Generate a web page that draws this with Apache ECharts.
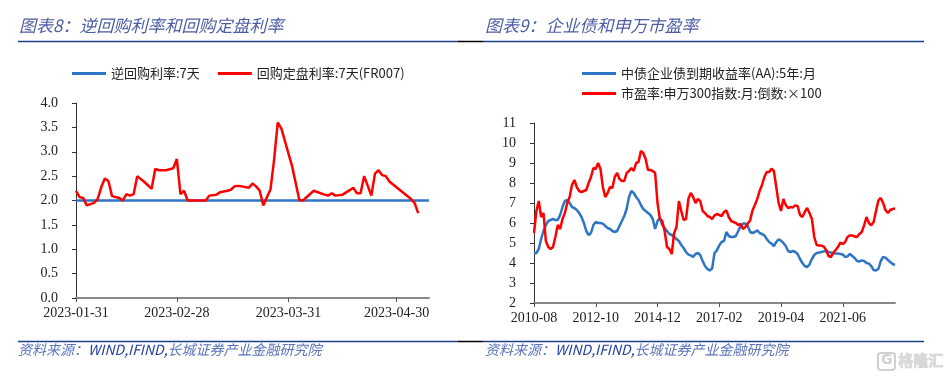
<!DOCTYPE html>
<html>
<head>
<meta charset="utf-8">
<script src="https://cdn.jsdelivr.net/npm/echarts@6/dist/echarts.min.js"></script>
<style>
html, body { margin: 0; padding: 0; background: #fff; }
#main { width: 951px; height: 377px; }
</style>
</head>
<body>
<div id="main"></div>
<script>
// 图表8 数据
var redDates = ['2023-01-31','2023-02-01','2023-02-02','2023-02-03','2023-02-05','2023-02-06','2023-02-07','2023-02-08','2023-02-09','2023-02-10',
    '2023-02-12','2023-02-13','2023-02-14','2023-02-15','2023-02-16','2023-02-17','2023-02-19','2023-02-21','2023-02-22','2023-02-23',
    '2023-02-25','2023-02-27','2023-02-28','2023-03-01','2023-03-02','2023-03-03','2023-03-08','2023-03-09','2023-03-11','2023-03-12',
    '2023-03-14','2023-03-15','2023-03-16','2023-03-17','2023-03-18','2023-03-20','2023-03-21','2023-03-22','2023-03-23','2023-03-24',
    '2023-03-26','2023-03-27','2023-03-28','2023-03-29','2023-04-01','2023-04-03','2023-04-04','2023-04-07','2023-04-10','2023-04-11',
    '2023-04-12','2023-04-13','2023-04-15','2023-04-18','2023-04-19','2023-04-20','2023-04-21','2023-04-23','2023-04-24','2023-04-25',
    '2023-04-26','2023-04-27','2023-04-28','2023-05-04','2023-05-05','2023-05-06'];
var redValues = [2.2,2.07,2.05,1.9,1.95,2.03,2.27,2.45,2.4,2.09,
    2.05,2.0,2.13,2.1,2.13,2.5,2.38,2.24,2.65,2.62,
    2.62,2.66,2.85,2.13,2.2,2.0,2.0,2.1,2.12,2.17,
    2.2,2.22,2.29,2.3,2.29,2.26,2.35,2.29,2.2,1.9,
    2.23,2.84,3.6,3.48,2.7,2.01,2.0,2.2,2.12,2.1,
    2.15,2.1,2.12,2.26,2.15,2.15,2.5,2.1,2.55,2.62,
    2.52,2.5,2.39,2.03,1.95,1.74];
var blueDates = ['2023-01-31','2023-05-09'];
var blueValues = [2.0,2.0];
var leftTicks = ['2023-01-31','2023-02-28','2023-03-31','2023-04-30'];

// 图表9 数据 (月度, 2010-08 起)
var months = [];
for (var y = 2010, m = 8; y < 2023 || (y === 2023 && m <= 4); m++) {
    if (m > 12) { m = 1; y++; }
    months.push(y + '-' + (m < 10 ? '0' + m : m));
}
var bondYield = [4.47,4.5,4.7,5.2,5.6,5.9,6.1,6.15,6.2,6.15,
    6.15,6.4,6.8,7.1,7.15,7.0,6.8,6.75,6.65,6.5,
    6.3,6.0,5.6,5.4,5.5,5.9,6.05,6.0,6.0,5.97,
    5.85,5.75,5.7,5.6,5.55,5.6,5.85,6.1,6.35,6.7,
    7.3,7.6,7.5,7.3,7.15,6.9,6.7,6.6,6.5,6.4,
    6.2,5.7,6.1,6.25,5.9,5.75,5.6,5.45,5.4,5.3,
    5.2,5.1,4.9,4.75,4.55,4.42,4.38,4.3,4.45,4.5,
    4.4,4.1,3.85,3.7,3.63,3.72,4.5,4.63,4.88,5.05,
    5.1,5.55,5.35,5.3,5.3,5.35,5.6,5.85,5.97,5.97,
    5.85,5.55,5.5,5.55,5.63,5.5,5.45,5.38,5.2,5.05,
    4.97,4.85,5.05,5.18,5.12,5.0,4.85,4.6,4.55,4.6,
    4.55,4.45,4.2,4.0,3.85,3.8,3.92,4.2,4.4,4.5,
    4.52,4.55,4.58,4.6,4.55,4.52,4.5,4.48,4.47,4.45,
    4.43,4.3,4.33,4.45,4.35,4.25,4.1,4.08,4.13,4.1,
    4.0,3.97,3.85,3.65,3.63,3.7,4.1,4.3,4.27,4.15,
    4.05,3.95,3.9];
var peInverse = [5.5,6.6,7.1,6.3,6.5,5.1,4.8,4.7,4.8,5.3,
    5.9,5.7,6.2,6.5,7.0,7.3,7.9,8.15,7.8,7.6,
    7.55,7.6,7.65,8.0,8.3,8.75,8.7,9.0,8.7,7.8,
    7.3,7.5,7.8,7.75,8.3,8.5,8.2,8.1,8.1,8.5,
    8.6,8.75,8.6,9.0,9.05,9.6,9.5,9.2,8.65,8.65,
    8.6,8.5,7.0,6.2,6.1,5.6,4.8,4.7,4.45,5.5,
    5.8,7.1,6.6,6.15,6.2,7.2,7.5,7.3,7.0,7.2,
    7.1,6.6,6.5,6.35,6.3,6.2,6.38,6.45,6.4,6.35,
    6.55,6.63,6.3,6.1,6.05,6.0,5.9,5.95,5.7,5.8,
    5.97,6.13,6.63,6.9,7.2,7.6,7.9,8.3,8.55,8.55,
    8.72,8.6,7.8,7.0,6.6,7.2,6.9,6.75,6.8,6.78,
    6.88,6.85,6.4,6.3,6.55,6.75,6.5,6.2,5.3,4.9,
    4.88,4.87,4.82,4.65,4.35,4.3,4.5,4.65,4.8,5.02,
    4.95,5.05,5.3,5.38,5.38,5.32,5.3,5.45,5.55,5.88,
    6.3,6.0,5.88,6.05,6.6,7.13,7.25,7.0,6.65,6.5,
    6.65,6.7,6.72];

function ts(s) {
    var p = s.split('-');
    return new Date(+p[0], +p[1] - 1, +p[2]).getTime();
}
function pad(n) { return n < 10 ? '0' + n : '' + n; }
function fmtDay(v) {
    var d = new Date(v);
    return d.getFullYear() + '-' + pad(d.getMonth() + 1) + '-' + pad(d.getDate());
}
function pairs(dates, vals) {
    return dates.map(function (d, i) { return [ts(d), vals[i]]; });
}

var BLUE = '#2f75c5';
var RED = '#ff0000';
var NAVY = '#1f3f8a';
var serif = '"Liberation Serif", "Times New Roman", serif';
var cjk = '"Noto Sans CJK SC", sans-serif';
var labelStyle = { color: '#222', fontFamily: serif, fontSize: 14 };
var footFont = 'italic 14px "Noto Sans CJK SC", sans-serif';

var dom = document.getElementById('main');
var myChart = echarts.init(dom);

myChart.setOption({
    animation: false,
    backgroundColor: '#fff',
    legend: [{
        left: 67,
        top: 62,
        itemWidth: 34,
        itemHeight: 3,
        itemGap: 18,
        icon: 'rect',
        textStyle: { color: '#222', fontFamily: cjk, fontSize: 13 },
        data: ['逆回购利率:7天', '回购定盘利率:7天(FR007)']
    }, {
        left: 577,
        top: 62,
        orient: 'vertical',
        itemWidth: 34,
        itemHeight: 3,
        itemGap: 7,
        icon: 'rect',
        textStyle: { color: '#222', fontFamily: cjk, fontSize: 13 },
        data: ['中债企业债到期收益率(AA):5年:月', '市盈率:申万300指数:月:倒数:×100']
    }],
    grid: [
        { left: 76, top: 103, width: 353, height: 195 },
        { left: 534, top: 123, width: 361, height: 180 }
    ],
    xAxis: [{
        type: 'value',
        gridIndex: 0,
        min: ts('2023-01-31'),
        max: ts('2023-05-09'),
        splitLine: { show: false },
        axisLine: { lineStyle: { color: '#888', width: 2 } },
        axisTick: { show: true, length: 4, lineStyle: { color: '#555' }, customValues: leftTicks.map(ts) },
        axisLabel: Object.assign({ margin: 8, customValues: leftTicks.map(ts), formatter: fmtDay, hideOverlap: false }, labelStyle)
    }, {
        type: 'category',
        gridIndex: 1,
        data: months,
        boundaryGap: false,
        axisLine: { lineStyle: { color: '#888', width: 2 } },
        axisTick: { interval: 25, length: 4, lineStyle: { color: '#555' } },
        axisLabel: Object.assign({ interval: 25, margin: 8 }, labelStyle)
    }],
    yAxis: [{
        type: 'value',
        gridIndex: 0,
        min: 0,
        max: 4,
        interval: 0.5,
        splitLine: { show: false },
        axisLine: { show: true, lineStyle: { color: '#333' } },
        axisTick: { show: true, length: 4, lineStyle: { color: '#333' } },
        axisLabel: Object.assign({ margin: 18, formatter: function (v) { return v.toFixed(1); } }, labelStyle)
    }, {
        type: 'value',
        gridIndex: 1,
        min: 2,
        max: 11,
        interval: 1,
        splitLine: { show: false },
        axisLine: { show: true, lineStyle: { color: '#333' } },
        axisTick: { show: true, length: 4, lineStyle: { color: '#333' } },
        axisLabel: Object.assign({ margin: 18 }, labelStyle)
    }],
    series: [{
        name: '逆回购利率:7天',
        type: 'line',
        xAxisIndex: 0,
        yAxisIndex: 0,
        showSymbol: false,
        color: BLUE,
        lineStyle: { width: 2.5, color: BLUE },
        data: pairs(blueDates, blueValues)
    }, {
        name: '回购定盘利率:7天(FR007)',
        type: 'line',
        xAxisIndex: 0,
        yAxisIndex: 0,
        showSymbol: false,
        color: RED,
        lineStyle: { width: 2.5, color: RED },
        data: pairs(redDates, redValues)
    }, {
        name: '中债企业债到期收益率(AA):5年:月',
        type: 'line',
        xAxisIndex: 1,
        yAxisIndex: 1,
        showSymbol: false,
        color: BLUE,
        lineStyle: { width: 2.5, color: BLUE },
        data: bondYield
    }, {
        name: '市盈率:申万300指数:月:倒数:×100',
        type: 'line',
        xAxisIndex: 1,
        yAxisIndex: 1,
        showSymbol: false,
        color: RED,
        lineStyle: { width: 2.5, color: RED },
        data: peInverse
    }],
    graphic: [
        // 标题
        { type: 'text', left: 19, top: 17, style: { text: '图表8：逆回购利率和回购定盘利率', fill: '#4d5da3', font: 'italic 17px "Noto Sans CJK SC", sans-serif' } },
        { type: 'text', left: 485, top: 17, style: { text: '图表9：企业债和申万市盈率', fill: '#4d5da3', font: 'italic 17px "Noto Sans CJK SC", sans-serif' } },
        { type: 'line', shape: { x1: 18, y1: 41.5, x2: 458, y2: 41.5 }, style: { stroke: NAVY, lineWidth: 1.5 } },
        { type: 'line', shape: { x1: 458, y1: 41.5, x2: 483, y2: 41.5 }, style: { stroke: '#000', lineWidth: 1.5 } },
        { type: 'line', shape: { x1: 483, y1: 41.5, x2: 924, y2: 41.5 }, style: { stroke: NAVY, lineWidth: 1.5 } },
        // 底部
        { type: 'line', shape: { x1: 18, y1: 341.5, x2: 458, y2: 341.5 }, style: { stroke: NAVY, lineWidth: 1.5 } },
        { type: 'line', shape: { x1: 458, y1: 341.5, x2: 483, y2: 341.5 }, style: { stroke: '#000', lineWidth: 1.5 } },
        { type: 'line', shape: { x1: 483, y1: 341.5, x2: 924, y2: 341.5 }, style: { stroke: NAVY, lineWidth: 1.5 } },
        {
            type: 'text', left: 18, top: 343,
            style: {
                text: '{a|资料来源：}{b|WIND,IFIND,}{a|长城证券产业金融研究院}',
                font: footFont,
                rich: {
                    a: { fill: '#5a73bb', font: footFont },
                    b: { fill: '#2442a0', font: footFont }
                }
            }
        },
        {
            type: 'text', left: 485, top: 343,
            style: {
                text: '{a|资料来源：}{b|WIND,IFIND,}{a|长城证券产业金融研究院}',
                font: footFont,
                rich: {
                    a: { fill: '#5a73bb', font: footFont },
                    b: { fill: '#2442a0', font: footFont }
                }
            }
        },
        // 水印
        { type: 'rect', shape: { x: 878, y: 353, width: 17, height: 17, r: 3 }, style: { fill: 'none', stroke: '#d0d0d0', lineWidth: 2 } },
        { type: 'text', left: 881, top: 353, style: { text: 'G', fill: '#d0d0d0', font: 'bold 14px "DejaVu Sans", sans-serif' } },
        { type: 'text', left: 898, top: 352, style: { text: '格隆汇', fill: '#dadada', stroke: '#c4c4c4', lineWidth: 0.6, font: 'bold 15px "Noto Sans CJK SC", sans-serif' } }
    ]
});
</script>
</body>
</html>
